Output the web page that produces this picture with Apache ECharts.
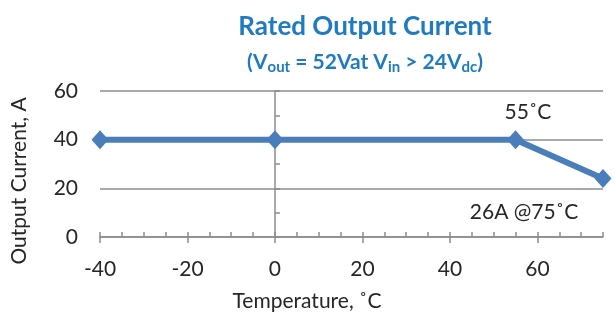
<!DOCTYPE html>
<html>
<head>
<meta charset="utf-8">
<script src="https://cdn.jsdelivr.net/npm/echarts@6/dist/echarts.min.js"></script>
<style>
  html, body { margin: 0; padding: 0; background: #fff; }
  #chart { width: 614px; height: 318px; }
</style>
</head>
<body>
<div id="chart"></div>
<script>
// data
const temps = [-40, 0, 55, 75];
const current = [40, 40, 40, 24];
const xTicks = [-40, -20, 0, 20, 40, 60];
const yTicks = [0, 20, 40, 60];

const blue = '#4a7ebb';
const gray = '#8c8c8c';
const txt = '#262626';
const font = 'Lato';
const fs = 21;

const chart = echarts.init(document.getElementById('chart'));

const options = {
  animation: false,
  title: [
    {
      text: 'Rated Output Current',
      left: 360, top: 9, textAlign: 'center',
      textStyle: { fontFamily: font, fontSize: 26, fontWeight: 'bold', color: '#1f7bc1' }
    },
    {
      text: '(V{sub|out} = 52Vat V{sub|in} > 24V{sub|dc})',
      left: 360, top: 44, textAlign: 'center',
      textStyle: {
        fontFamily: font, fontSize: 21, fontWeight: 'bold', color: '#1f7bc1', lineHeight: 26,
        rich: {
          sub: { fontFamily: font, fontSize: 15, fontWeight: 'bold', color: '#1f7bc1', verticalAlign: 'bottom', lineHeight: 15, padding: [9, 0, 0, 0] }
        }
      }
    }
  ],
  grid: { left: 100, right: 11, top: 91, bottom: 81 },
  xAxis: [
    {
      type: 'value', min: xTicks[0], max: 75, interval: 20,
      position: 'bottom',
      axisLine: { lineStyle: { color: gray, width: 1.5 } },
      axisTick: { show: true, inside: false, length: 6, lineStyle: { color: gray, width: 1.5 } },
      axisLabel: { fontFamily: font, fontSize: fs, color: txt, margin: 22, showMaxLabel: false },
      splitLine: { show: false }
    },
    {
      type: 'value', min: xTicks[0], max: 75, interval: 5,
      position: 'bottom',
      axisLine: { show: false },
      axisTick: { show: true, inside: true, length: 5, lineStyle: { color: gray, width: 1.5 } },
      axisLabel: { show: false },
      splitLine: { show: false }
    }
  ],
  yAxis: [
    {
      type: 'value', min: yTicks[0], max: yTicks[yTicks.length - 1], interval: 20,
      position: 'left',
      axisLine: { show: false, onZero: false },
      axisTick: { show: false },
      axisLabel: { fontFamily: font, fontSize: fs, color: txt, margin: 22 },
      splitLine: { show: true, lineStyle: { color: gray, width: 1.5 } }
    },
    {
      type: 'value', min: yTicks[0], max: yTicks[yTicks.length - 1], interval: 10,
      position: 'left',
      axisLine: { show: true, onZero: true, lineStyle: { color: gray, width: 1.5 } },
      axisTick: { show: true, inside: true, length: 5, lineStyle: { color: gray, width: 1.5 } },
      axisLabel: { show: false },
      splitLine: { show: false }
    }
  ],
  graphic: [
    {
      type: 'text', x: 307, y: 301,
      style: { text: 'Temperature, ˚C', fontFamily: font, fontSize: fs, fill: txt, align: 'center', verticalAlign: 'middle' }
    },
    {
      type: 'text', x: 19, y: 181, rotation: Math.PI / 2,
      style: { text: 'Output Current, A', fontFamily: font, fontSize: fs, fill: txt, align: 'center', verticalAlign: 'middle' }
    },
    {
      type: 'text', x: 528, y: 112,
      style: { text: '55˚C', fontFamily: font, fontSize: fs, fill: txt, align: 'center', verticalAlign: 'middle' }
    },
    {
      type: 'text', x: 524, y: 212,
      style: { text: '26A @75˚C', fontFamily: font, fontSize: fs, fill: txt, align: 'center', verticalAlign: 'middle' }
    }
  ],
  series: [
    {
      type: 'line',
      xAxisIndex: 0, yAxisIndex: 0,
      data: temps.map((t, i) => [t, current[i]]),
      symbol: 'diamond', symbolSize: [17, 19],
      clip: false,
      lineStyle: { color: blue, width: 6 },
      itemStyle: { color: blue },
      z: 5
    }
  ]
};

chart.setOption(options);
</script>
</body>
</html>
